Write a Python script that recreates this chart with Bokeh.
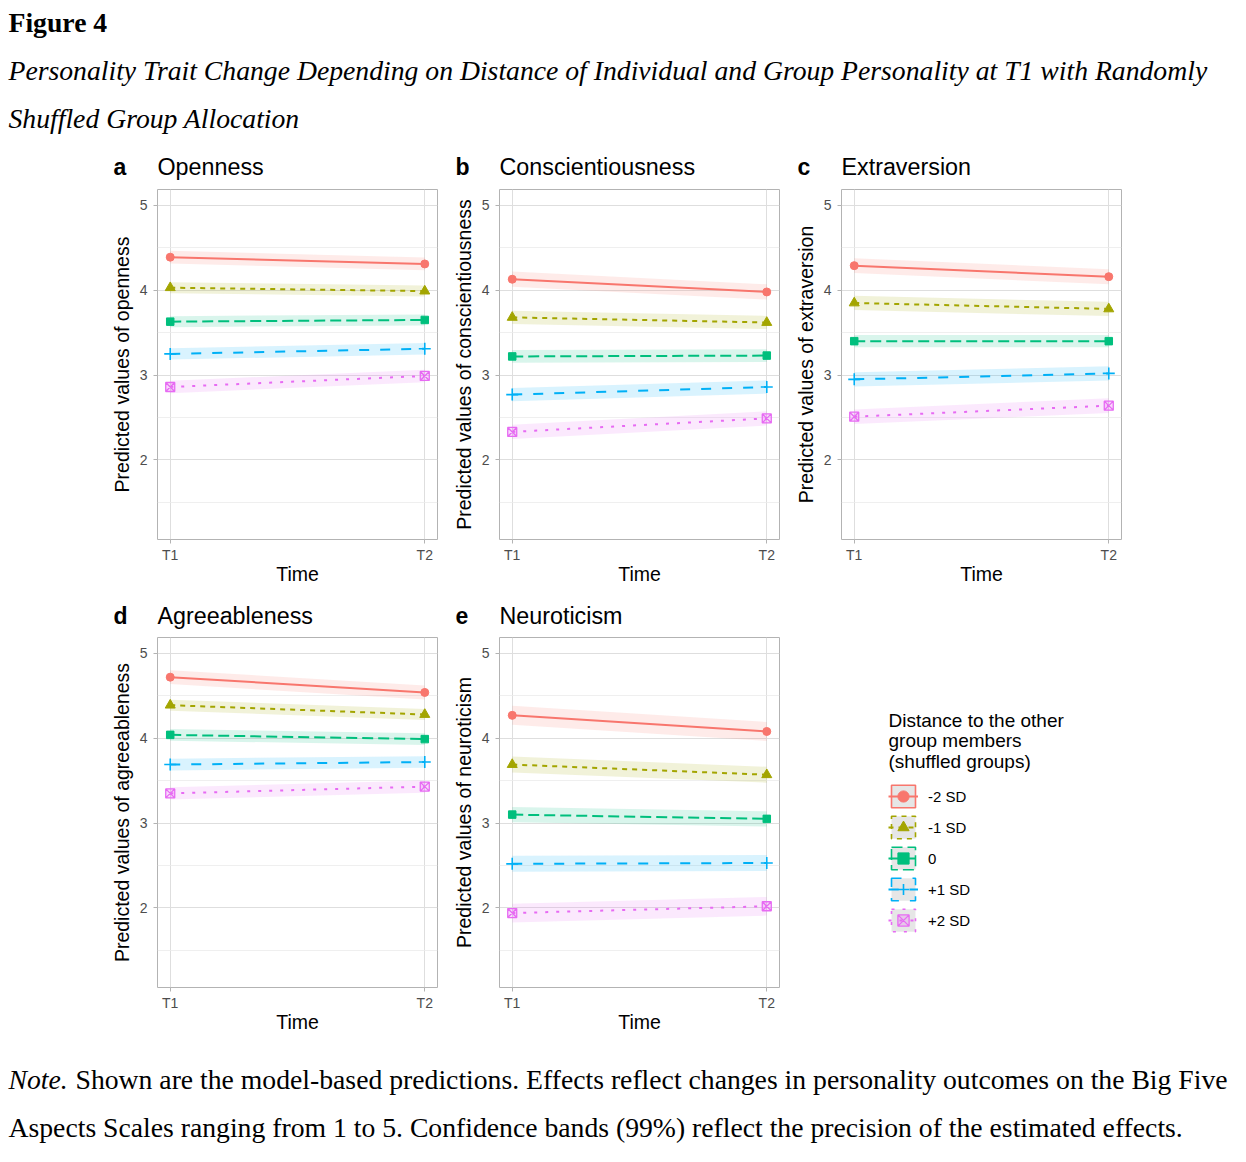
from bokeh.plotting import figure
from bokeh.models import Range1d, FixedTicker, Legend, LegendItem
from bokeh.layouts import column, row
from bokeh.embed import file_html
from bokeh.resources import INLINE
from bokeh.core.properties import value

# ---------------- data ----------------
times = [1, 2]
time_labels = ["T1", "T2"]
groups = ["-2 SD", "-1 SD", "0", "+1 SD", "+2 SD"]
panel_letters = ["a", "b", "c", "d", "e"]
traits = ["Openness", "Conscientiousness", "Extraversion", "Agreeableness", "Neuroticism"]
y_titles = ["Predicted values of openness", "Predicted values of conscientiousness",
            "Predicted values of extraversion", "Predicted values of agreeableness",
            "Predicted values of neuroticism"]

openness_t1 = [4.39, 4.03, 3.63, 3.25, 2.86]
openness_t2 = [4.31, 3.99, 3.65, 3.31, 2.99]
openness_ci = [0.075, 0.065, 0.065, 0.067, 0.073]

conscientiousness_t1 = [4.13, 3.68, 3.22, 2.77, 2.33]
conscientiousness_t2 = [3.98, 3.62, 3.23, 2.86, 2.49]
conscientiousness_ci = [0.090, 0.078, 0.075, 0.078, 0.084]

extraversion_t1 = [4.29, 3.85, 3.40, 2.95, 2.51]
extraversion_t2 = [4.16, 3.78, 3.40, 3.02, 2.64]
extraversion_ci = [0.088, 0.084, 0.073, 0.084, 0.086]

agreeableness_t1 = [4.72, 4.39, 4.04, 3.69, 3.35]
agreeableness_t2 = [4.54, 4.28, 3.99, 3.72, 3.43]
agreeableness_ci = [0.082, 0.065, 0.069, 0.069, 0.073]

neuroticism_t1 = [4.27, 3.69, 3.10, 2.52, 1.94]
neuroticism_t2 = [4.08, 3.57, 3.05, 2.53, 2.02]
neuroticism_ci = [0.112, 0.094, 0.090, 0.094, 0.110]

y_ticks = [2, 3, 4, 5]
y_minor_ticks = [1.5, 2.5, 3.5, 4.5]

fig_label = "Figure 4"
caption_lines = ["Personality Trait Change Depending on Distance of Individual and Group Personality at T1 with Randomly",
                 "Shuffled Group Allocation"]
legend_title_lines = ["Distance to the other", "group members", "(shuffled groups)"]
note_lead = "Note."
note_lines = ["Shown are the model-based predictions. Effects reflect changes in personality outcomes on the Big Five",
              "Aspects Scales ranging from 1 to 5. Confidence bands (99%) reflect the precision of the estimated effects."]

# ---------------- style ----------------
colors = ["#F8766D", "#A3A500", "#00BF7D", "#00B0F6", "#E76BF3"]
dashes = ["solid", "5 5", "11 5", "10 11", "3 8"]
markers = ["circle", "triangle", "square", "cross", "square_x"]
msizes = [8, 10, 7.5, 12, 9]
SANS = "Liberation Sans"
SERIF = "Liberation Serif"
FRAME_W, FRAME_H = 280, 350
BORDER_TOP, BORDER_BOTTOM, BORDER_RIGHT = 4, 56, 4
FIRST_LEFT, OTHER_LEFT = 157, 58
PAGE_W = 1240
HEADER_H, MID_H, FOOTER_H = 185, 38, 110
ROW_H = BORDER_TOP + FRAME_H + BORDER_BOTTOM
SLOT_W = OTHER_LEFT + FRAME_W + BORDER_RIGHT
LEG_LEFT, LEG_TITLE_H = 105, 149

series = [
    (openness_t1, openness_t2, openness_ci),
    (conscientiousness_t1, conscientiousness_t2, conscientiousness_ci),
    (extraversion_t1, extraversion_t2, extraversion_ci),
    (agreeableness_t1, agreeableness_t2, agreeableness_ci),
    (neuroticism_t1, neuroticism_t2, neuroticism_ci),
]


def blank(w, h, left=0):
    p = figure(width=w, height=h, x_range=Range1d(0, w - left), y_range=Range1d(h, 0),
               x_axis_type=None, y_axis_type=None, min_border=0, min_border_left=left,
               toolbar_location=None, output_backend="svg")
    p.outline_line_color = None
    p.background_fill_color = "white"
    p.border_fill_color = "white"
    return p


def add_marker(p, g, xs, ys):
    if markers[g] == "square_x":
        return p.scatter(xs, ys, marker=markers[g], size=msizes[g], line_color=colors[g],
                         fill_color=colors[g], fill_alpha=0.25, line_width=1.3)
    if markers[g] == "cross":
        return p.scatter(xs, ys, marker=markers[g], size=msizes[g], line_color=colors[g],
                         line_width=1.6)
    return p.scatter(xs, ys, marker=markers[g], size=msizes[g], color=colors[g])


def panel(idx, left):
    t1, t2, ci = series[idx]
    p = figure(frame_width=FRAME_W, frame_height=FRAME_H,
               x_range=Range1d(0.95, 2.05), y_range=Range1d(1.0625, 5.1875),
               min_border_left=left, min_border_right=BORDER_RIGHT,
               min_border_top=BORDER_TOP, min_border_bottom=BORDER_BOTTOM,
               toolbar_location=None, output_backend="svg")
    p.background_fill_color = "white"
    p.border_fill_color = "white"
    p.outline_line_color = "#B3B3B3"
    p.outline_line_width = 1

    for g in range(len(groups)):
        vals = [t1[g], t2[g]]
        p.varea(x=times, y1=[v - ci[g] for v in vals], y2=[v + ci[g] for v in vals],
                fill_color=colors[g], fill_alpha=0.15)
    for g in range(len(groups)):
        p.line(times, [t1[g], t2[g]], line_color=colors[g], line_width=2,
               line_dash=dashes[g])
    for g in range(len(groups)):
        add_marker(p, g, times, [t1[g], t2[g]])

    p.xaxis.ticker = FixedTicker(ticks=times)
    p.xaxis.major_label_overrides = {t: lab for t, lab in zip(times, time_labels)}
    p.yaxis.ticker = FixedTicker(ticks=y_ticks, minor_ticks=y_minor_ticks)
    p.xaxis.axis_label = "Time"
    p.yaxis.axis_label = y_titles[idx]
    for ax in (p.xaxis, p.yaxis):
        ax.axis_line_color = None
        ax.major_tick_out = 4
        ax.major_tick_in = 0
        ax.major_tick_line_color = "#B3B3B3"
        ax.minor_tick_line_color = None
        ax.major_label_text_font = SANS
        ax.major_label_text_font_size = "14px"
        ax.major_label_text_color = "#4D4D4D"
        ax.axis_label_text_font = SANS
        ax.axis_label_text_font_size = "19.5px"
        ax.axis_label_text_font_style = "normal"
        ax.axis_label_text_color = "black"
    p.yaxis.major_label_standoff = 6
    p.yaxis.axis_label_standoff = 4
    p.xaxis.major_label_standoff = 3
    p.xaxis.axis_label_standoff = -3
    p.xgrid.grid_line_color = "#DEDEDE"
    p.ygrid.grid_line_color = "#DEDEDE"
    p.ygrid.minor_grid_line_color = "#EBEBEB"
    p.ygrid.minor_grid_line_width = 0.8
    return p


def add_titles(p, idxs, center_y):
    for k, idx in enumerate(idxs):
        frame_left = FIRST_LEFT + k * SLOT_W
        p.text(x=[frame_left - 44], y=[center_y], text=[panel_letters[idx]],
               text_font=value(SANS), text_font_size="23px", text_font_style="bold",
               text_color="black", text_baseline="middle")
        p.text(x=[frame_left], y=[center_y], text=[traits[idx]],
               text_font=value(SANS), text_font_size="23.3px",
               text_color="black", text_baseline="middle")


# ---------------- header ----------------
header = blank(PAGE_W, HEADER_H)
header.text(x=[8], y=[22], text=[fig_label], text_font=value(SERIF), text_font_size="27.7px",
            text_font_style="bold", text_color="black", text_baseline="middle")
header.text(x=[8, 8], y=[70, 118], text=caption_lines, text_font=value(SERIF),
            text_font_size="27.7px", text_font_style="italic", text_color="black",
            text_baseline="middle")
add_titles(header, [0, 1, 2], 166)

# ---------------- panels ----------------
pa = panel(0, FIRST_LEFT)
pb = panel(1, OTHER_LEFT)
pc = panel(2, OTHER_LEFT)
pd = panel(3, FIRST_LEFT)
pe = panel(4, OTHER_LEFT)

mid = blank(PAGE_W, MID_H)
add_titles(mid, [3, 4], 20)

# ---------------- legend ----------------
lt = blank(SLOT_W, LEG_TITLE_H, left=LEG_LEFT)
lt.text(x=[0] * 3, y=[87, 107, 128], text=legend_title_lines, text_font=value(SANS),
        text_font_size="19px", text_color="black", text_baseline="middle")

lf = figure(width=SLOT_W, height=ROW_H - LEG_TITLE_H, x_range=Range1d(0, 1), y_range=Range1d(0, 1),
            x_axis_type=None, y_axis_type=None, min_border_left=LEG_LEFT, min_border_top=0,
            min_border_right=0, min_border_bottom=0, toolbar_location=None, output_backend="svg")
lf.outline_line_color = None
lf.background_fill_color = "white"
lf.border_fill_color = "white"
nan = float("nan")
items = []
for g in range(len(groups)):
    q = lf.quad(left=[nan], right=[nan], top=[nan], bottom=[nan], fill_color="#E6E6E6",
                line_color=colors[g], line_dash=dashes[g], line_width=1.6)
    ln = lf.line(x=[nan], y=[nan], line_color=colors[g], line_width=2, line_dash=dashes[g])
    sc = add_marker(lf, g, [nan], [nan])
    items.append(LegendItem(label=groups[g], renderers=[q, ln, sc]))
legend = Legend(items=items, location="top_left", glyph_width=30, glyph_height=28,
                spacing=3, padding=0, margin=0, border_line_color=None,
                background_fill_alpha=0, label_text_font=SANS, label_text_font_size="15px",
                label_text_color="black", label_standoff=10, label_height=28)
lf.add_layout(legend)

# ---------------- footer ----------------
footer = blank(PAGE_W, FOOTER_H)
footer.text(x=[8], y=[36], text=[note_lead], text_font=value(SERIF), text_font_size="27.7px",
            text_font_style="italic", text_color="black", text_baseline="middle")
footer.text(x=[75], y=[36], text=[note_lines[0]], text_font=value(SERIF),
            text_font_size="27.7px", text_color="black", text_baseline="middle")
footer.text(x=[8], y=[84], text=[note_lines[1]], text_font=value(SERIF),
            text_font_size="27.7px", text_color="black", text_baseline="middle")

layout = column(header, row(pa, pb, pc), mid, row(pd, pe, column(lt, lf)), footer)
open("out.html", "w").write(file_html(layout, INLINE))
